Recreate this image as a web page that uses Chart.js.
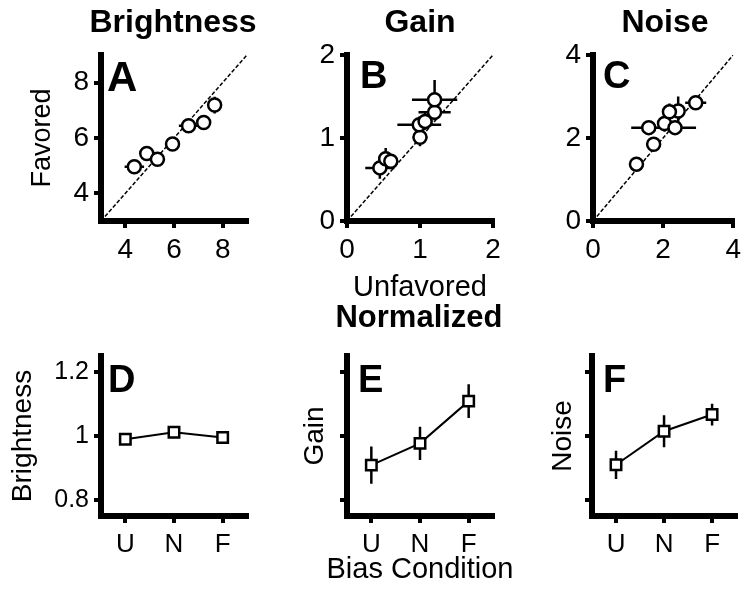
<!DOCTYPE html>
<html><head><meta charset="utf-8">
<script src="https://cdn.jsdelivr.net/npm/chart.js@4/dist/chart.umd.min.js"></script>
<style>
html,body{margin:0;padding:0;background:#fff;}
#wrap{position:relative;width:746px;height:594px;overflow:hidden;font-family:"Liberation Sans",Arial,sans-serif;}
#wrap canvas{position:absolute;left:0;top:0;}
.t{position:absolute;line-height:1;white-space:nowrap;color:#000;font-weight:bold;}
.t.n{font-weight:normal;}
</style></head><body>
<div id="wrap">
<canvas id="cA" width="746" height="594"></canvas>
<canvas id="cB" width="746" height="594"></canvas>
<canvas id="cC" width="746" height="594"></canvas>
<canvas id="cD" width="746" height="594"></canvas>
<canvas id="cE" width="746" height="594"></canvas>
<canvas id="cF" width="746" height="594"></canvas>
</div>
<script>
// ---- data ----
const aUnfav = [4.37, 4.88, 5.32, 5.94, 6.60, 7.22, 7.67];
const aFav   = [4.96, 5.44, 5.23, 5.78, 6.44, 6.56, 7.19];
const aUnfavErr = [0.40, 0.25, 0.20, 0.30, 0.40, 0.20, 0.20];
const aFavErr   = [0.15, 0.20, 0.15, 0.20, 0.15, 0.20, 0.30];

const bUnfav = [0.45, 0.53, 0.60, 1.00, 0.99, 1.07, 1.20, 1.20];
const bFav   = [0.64, 0.75, 0.72, 1.01, 1.16, 1.20, 1.31, 1.46];
const bUnfavErr = [0.20, 0.10, 0.10, 0.10, 0.30, 0.10, 0.22, 0.31];
const bFavErr   = [0.13, 0.13, 0.08, 0.11, 0.10, 0.10, 0.10, 0.24];

const cUnfav = [1.24, 1.73, 1.59, 2.04, 2.34, 2.43, 2.18, 2.93];
const cFav   = [1.37, 1.85, 2.25, 2.35, 2.25, 2.65, 2.63, 2.85];
const cUnfavErr = [0.20, 0.15, 0.50, 0.15, 0.60, 0.20, 0.20, 0.30];
const cFavErr   = [0.10, 0.15, 0.15, 0.20, 0.15, 0.35, 0.20, 0.12];

const conditions = ['U', 'N', 'F'];
const dBrightness = [0.990, 1.012, 0.995];
const dBrightnessErr = [0.012, 0.010, 0.012];
const eGain = [0.909, 0.977, 1.109];
const eGainErr = [0.058, 0.052, 0.053];
const fNoise = [0.910, 1.015, 1.067];
const fNoiseErr = [0.044, 0.050, 0.034];

const aTicks = [4, 6, 8];
const bTicks = [0, 1, 2];
const cTicks = [0, 2, 4];
const normTicks = [0.8, 1, 1.2];

// ---- helpers ----
Chart.defaults.font.family = "'Liberation Sans', Arial, sans-serif";
Chart.defaults.color = '#000';

function errSegments(xs, ys, xe, ye) {
  const h = [], v = [];
  xs.forEach((x, i) => {
    h.push({x: x - xe[i], y: ys[i]}, {x: x + xe[i], y: ys[i]}, {x: x, y: null});
    v.push({x: x, y: ys[i] - ye[i]}, {x: x, y: ys[i] + ye[i]}, {x: x, y: null});
  });
  return h.concat(v);
}
function vErrSegments(cats, ys, ye) {
  const v = [];
  cats.forEach((c, i) => {
    v.push({x: c, y: ys[i] - ye[i]}, {x: c, y: ys[i] + ye[i]}, {x: c, y: null});
  });
  return v;
}
function linAxis(min, max, ticks, fontSize, fixed, title, labelFn) {
  return {
    type: 'linear', min: min, max: max,
    afterBuildTicks: s => { s.ticks = ticks.map(v => ({value: v})); },
    afterFit: s => { if (s.isHorizontal()) s.height = fixed; else s.width = fixed; },
    ticks: {font: {size: fontSize}, color: '#000', padding: 5, autoSkip: false, maxRotation: 0,
            callback: labelFn || (v => String(v))},
    grid: {display: true, drawOnChartArea: false, drawTicks: true, tickLength: 7, lineWidth: 4, color: '#000'},
    border: {display: true, width: 6, color: '#000'},
    title: title ? {display: true, text: title.text, font: {size: title.size}, color: '#000', padding: {top: 0, bottom: 0}} : {display: false}
  };
}
function pad(L, T, R, B, yW, xH) {
  return {left: L - yW, top: T, right: 746 - R, bottom: 594 - B - xH};
}
const common = {
  responsive: false, animation: false, events: [],
  plugins: {legend: {display: false}, tooltip: {enabled: false}, title: {display: false}}
};

function scatterPanel(id, xs, ys, xe, ye, min, max, ticks, area, yW, xH, yTitle) {
  new Chart(document.getElementById(id), {
    type: 'scatter',
    data: {datasets: [
      {data: xs.map((x, i) => ({x: x, y: ys[i]})), pointRadius: 6.5, pointBorderWidth: 2.5,
       pointBackgroundColor: '#fff', pointBorderColor: '#000', showLine: false, order: 0},
      {data: errSegments(xs, ys, xe, ye), showLine: true, spanGaps: false, borderColor: '#000',
       borderWidth: 2.5, pointRadius: 0, order: 1},
      {data: [{x: min, y: min}, {x: max, y: max}], showLine: true, borderColor: '#000', borderWidth: 1.5,
       borderDash: [4, 2], pointRadius: 0, order: 2}
    ]},
    options: Object.assign({}, common, {
      layout: {padding: pad(area[0], area[1], area[2], area[3], yW, xH)},
      scales: {
        x: linAxis(min, max, ticks, 28, xH, null),
        y: linAxis(min, max, ticks, 28, yW, yTitle ? {text: yTitle, size: 27} : null)
      }
    })
  });
}

function normPanel(id, ys, ye, area, yW, xH, yTitle, showLabels) {
  new Chart(document.getElementById(id), {
    type: 'line',
    data: {labels: conditions, datasets: [
      {data: ys, borderColor: '#000', borderWidth: 2, pointStyle: 'rect', pointRadius: 7.4,
       pointBorderWidth: 2.5, pointBackgroundColor: '#fff', pointBorderColor: '#000', order: 0},
      {data: vErrSegments(conditions, ys, ye), borderColor: '#000', borderWidth: 2.5, pointRadius: 0,
       spanGaps: false, order: 1}
    ]},
    options: Object.assign({}, common, {
      layout: {padding: pad(area[0], area[1], area[2], area[3], yW, xH)},
      scales: {
        x: {
          type: 'category', offset: true,
          afterFit: s => { s.height = xH; },
          ticks: {font: {size: 26}, color: '#000', padding: 6, maxRotation: 0, autoSkip: false},
          grid: {display: true, offset: false, drawOnChartArea: false, drawTicks: true, tickLength: 7, lineWidth: 4, color: '#000'},
          border: {display: true, width: 6, color: '#000'},
          title: {display: false}
        },
        y: linAxis(0.75, 1.25, normTicks, 25, yW, {text: yTitle, size: 28},
                   showLabels ? (v => v === 1 ? '1' : v.toFixed(1)) : (() => ''))
      }
    })
  });
}

scatterPanel('cA', aUnfav, aFav, aUnfavErr, aFavErr, 3, 9, aTicks, [101, 55, 247, 221], 75, 83, 'Favored');
scatterPanel('cB', bUnfav, bFav, bUnfavErr, bFavErr, 0, 2, bTicks, [347, 55, 493, 221], 50, 83, null);
scatterPanel('cC', cUnfav, cFav, cUnfavErr, cFavErr, 0, 4, cTicks, [593, 55, 739, 221], 50, 83, null);

normPanel('cD', dBrightness, dBrightnessErr, [101, 356, 247, 516], 95, 78, 'Brightness', true);
normPanel('cE', eGain, eGainErr, [347, 356, 493, 516], 49, 78, 'Gain', false);
normPanel('cF', fNoise, fNoiseErr, [592, 356, 738, 516], 46, 78, 'Noise', false);

// ---- titles, shared axis titles & panel letters (HTML text) ----
const wrap = document.getElementById('wrap');
function addText(txt, x, baseline, size, center, normal) {
  const d = document.createElement('div');
  d.className = normal ? 't n' : 't';
  d.textContent = txt;
  d.style.fontSize = size + 'px';
  d.style.top = (baseline - 0.8465 * size) + 'px';
  d.style.left = x + 'px';
  if (center) d.style.transform = 'translateX(-50%)';
  wrap.appendChild(d);
}
addText('Brightness', 173, 32, 32, true);
addText('Gain', 420, 32, 32, true);
addText('Noise', 665, 32, 32, true);
addText('Normalized', 419, 327, 31, true);
addText('Unfavored', 420, 297, 29, true, true);
addText('Bias Condition', 420, 579, 29, true, true);
addText('A', 107, 92, 42, false);
addText('B', 360, 88, 38, false);
addText('C', 603, 88, 38, false);
addText('D', 108, 392, 38, false);
addText('E', 358, 392, 38, false);
addText('F', 603, 392, 38, false);
</script>
</body></html>
